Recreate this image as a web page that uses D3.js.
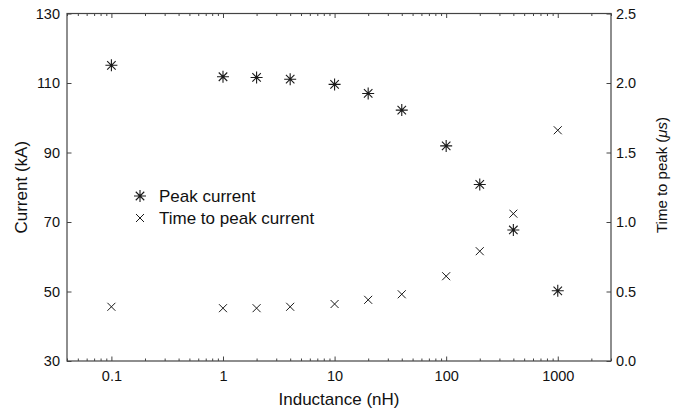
<!DOCTYPE html>
<html>
<head>
<meta charset="utf-8">
<script src="https://cdn.jsdelivr.net/npm/d3@7"></script>
<style>
  body { margin: 0; background: #fff; }
  svg text { font-family: 'Liberation Sans', Arial, sans-serif; fill: #111; }
</style>
</head>
<body>
<div id="chart"></div>
<script>
// data
const inductance = [0.1, 1, 2, 4, 10, 20, 40, 100, 200, 400, 1000]
const peakCurrent = [115.1, 111.8, 111.6, 111.1, 109.6, 107.0, 102.2, 91.9, 80.8, 67.7, 50.2]
const timeToPeak = [0.39, 0.38, 0.38, 0.39, 0.41, 0.44, 0.48, 0.61, 0.79, 1.06, 1.66]

const xTickValues = [0.1, 1, 10, 100, 1000]
const xTickLabels = ['0.1', '1', '10', '100', '1000']
const leftTicks = [30, 50, 70, 90, 110, 130]
const rightTicks = [0, 0.5, 1.0, 1.5, 2.0, 2.5]
const legendLabels = ['Peak current', 'Time to peak current']

const outerWidth = 683
const outerHeight = 414
const margin = { top: 13.5, right: 72, bottom: 53, left: 67 }
const width = outerWidth - margin.left - margin.right
const height = outerHeight - margin.top - margin.bottom
const ink = '#1a1a1a'
const axisInk = '#444'

let raw = d3.select('#chart')
  .append('svg')
  .attr('width', outerWidth)
  .attr('height', outerHeight)
let svg = raw.append('g')
  .attr('transform', `translate(${margin.left},${margin.top})`)

// scales
let xs = d3.scaleLog().domain([0.04, 3000]).range([0, width])
let yl = d3.scaleLinear().domain([30, 130]).range([height, 0])
let yr = d3.scaleLinear().domain([0, 2.5]).range([height, 0])

let minor = xs.ticks().filter((v) => !xTickValues.some((m) => Math.abs(m - v) < 1e-9))

// axes with inward ticks
function styleAxis (g) {
  g.select('.domain').remove()
  g.selectAll('line').attr('stroke', axisInk)
  g.selectAll('text').attr('font-size', 14.5).attr('fill', '#111')
}

svg.append('g')
  .attr('transform', `translate(0,${height})`)
  .call(d3.axisBottom(xs).tickValues(minor).tickSize(-2.5).tickFormat(''))
  .call(styleAxis)
svg.append('g')
  .attr('transform', `translate(0,${height})`)
  .call(d3.axisBottom(xs).tickValues(xTickValues).tickSize(-4.5).tickPadding(10)
    .tickFormat((d, i) => xTickLabels[i]))
  .call(styleAxis)
svg.append('g')
  .call(d3.axisTop(xs).tickValues(minor).tickSize(-2.5).tickFormat(''))
  .call(styleAxis)
svg.append('g')
  .call(d3.axisTop(xs).tickValues(xTickValues).tickSize(-4.5).tickFormat(''))
  .call(styleAxis)
svg.append('g')
  .call(d3.axisLeft(yl).tickValues(leftTicks).tickSize(-4.5).tickPadding(7))
  .call(styleAxis)
svg.append('g')
  .attr('transform', `translate(${width},0)`)
  .call(d3.axisRight(yr).tickValues(rightTicks).tickSize(-4.5).tickPadding(5)
    .tickFormat(d3.format('.1f')))
  .call(styleAxis)

// frame
svg.append('rect')
  .attr('x', 0)
  .attr('y', 0)
  .attr('width', width)
  .attr('height', height)
  .attr('fill', 'none')
  .attr('stroke', axisInk)
  .attr('stroke-width', 1.2)

// marker shapes
const starPath = (r) => {
  let d = ''
  for (let k = 0; k < 4; k++) {
    let a = k * Math.PI / 4
    let dx = r * Math.cos(a)
    let dy = r * Math.sin(a)
    d += `M${-dx},${-dy}L${dx},${dy}`
  }
  return d
}
const crossPath = (r) => `M${-r},${-r}L${r},${r}M${-r},${r}L${r},${-r}`

let points = inductance.map((x, i) => ({ x: x, current: peakCurrent[i], time: timeToPeak[i] }))

svg.selectAll('.peak')
  .data(points)
  .enter()
  .append('path')
  .attr('class', 'peak')
  .attr('transform', (d) => `translate(${xs(d.x)},${yl(d.current)})`)
  .attr('d', starPath(6))
  .attr('stroke', ink)
  .attr('stroke-width', 1.1)
  .attr('fill', 'none')

svg.selectAll('.ttp')
  .data(points)
  .enter()
  .append('path')
  .attr('class', 'ttp')
  .attr('transform', (d) => `translate(${xs(d.x)},${yr(d.time)})`)
  .attr('d', crossPath(4))
  .attr('stroke', ink)
  .attr('stroke-width', 1)
  .attr('fill', 'none')

// legend
let legend = raw.append('g')
legend.append('path')
  .attr('transform', 'translate(140,196)')
  .attr('d', starPath(6))
  .attr('stroke', ink)
  .attr('stroke-width', 1.1)
legend.append('path')
  .attr('transform', 'translate(140,218)')
  .attr('d', crossPath(4))
  .attr('stroke', ink)
legend.selectAll('.legend-text')
  .data(legendLabels)
  .enter()
  .append('text')
  .attr('x', 159)
  .attr('y', (d, i) => 201.5 + i * 22)
  .attr('font-size', 17)
  .text((d) => d)

// axis labels
raw.append('text')
  .attr('transform', 'rotate(-90)')
  .attr('x', -(margin.top + height / 2))
  .attr('y', 27)
  .attr('font-size', 17)
  .style('text-anchor', 'middle')
  .text('Current (kA)')
raw.append('text')
  .attr('x', margin.left + width / 2)
  .attr('y', 405)
  .attr('font-size', 17)
  .style('text-anchor', 'middle')
  .text('Inductance (nH)')
let rt = raw.append('text')
  .attr('transform', 'rotate(-90)')
  .attr('x', -175)
  .attr('y', 667)
  .attr('font-size', 15)
  .style('text-anchor', 'middle')
rt.append('tspan').text('Time to peak (')
rt.append('tspan').style('font-style', 'italic').text('\u03bcs')
rt.append('tspan').text(')')
</script>
</body>
</html>
